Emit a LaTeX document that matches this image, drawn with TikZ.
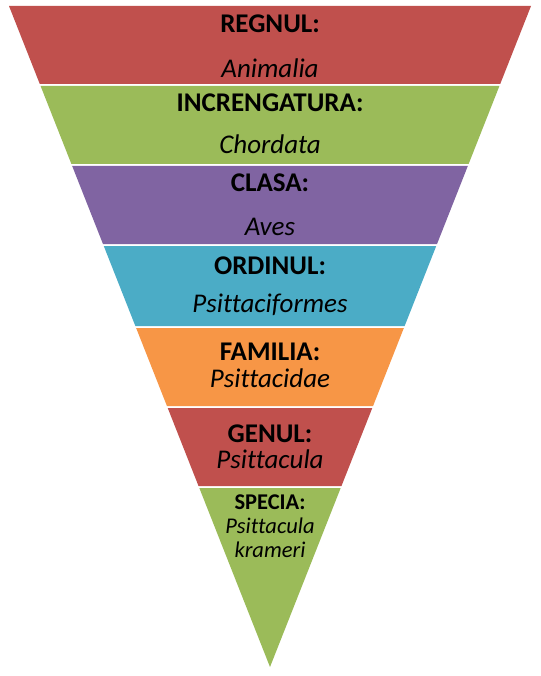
\documentclass[tikz,border=0pt]{standalone}
\usepackage{fontspec}
\setmainfont{Carlito}[Ligatures=NoCommon]
\definecolor{cred}{HTML}{C0504D}
\definecolor{cgreen}{HTML}{9BBB59}
\definecolor{cpurple}{HTML}{8064A2}
\definecolor{caqua}{HTML}{4BACC6}
\definecolor{corange}{HTML}{F79646}
\begin{document}
\begin{tikzpicture}[x=1pt,y=-1pt,
  rank/.style={anchor=base,inner sep=0pt,font=\fontsize{27}{30}\selectfont\bfseries},
  taxon/.style={anchor=base,inner sep=0pt,font=\fontsize{27}{30}\selectfont\itshape},
  srank/.style={anchor=base,inner sep=0pt,font=\fontsize{22.5}{24}\selectfont\bfseries},
  staxon/.style={anchor=base,inner sep=0pt,font=\fontsize{22.5}{24}\selectfont\itshape}]
\useasboundingbox (0,0) rectangle (540,676);
\fill[white] (0,0) rectangle (540,676);
% bands
\fill[cred]    (9,6) -- (531,6) -- (500.20,84) -- (39.80,84) -- cycle;
\fill[cgreen]  (40.59,86) -- (499.41,86) -- (468.61,164) -- (71.39,164) -- cycle;
\fill[cpurple] (72.18,166) -- (467.82,166) -- (437.02,244) -- (102.98,244) -- cycle;
\fill[caqua]   (103.77,246) -- (436.23,246) -- (404.64,326) -- (135.36,326) -- cycle;
\fill[corange] (136.14,328) -- (403.86,328) -- (373.06,406) -- (166.94,406) -- cycle;
\fill[cred]    (167.73,408) -- (372.27,408) -- (341.47,486) -- (198.53,486) -- cycle;
\fill[cgreen]  (199.32,488) -- (340.68,488) -- (270,667) -- cycle;
% labels
\node[rank]  (regnul) at (270,33)  {REGNUL:};
\node[taxon] (animalia) at (270,78) {Animalia};
\node[rank]  (incr) at (270,112) {INCRENGATURA:};
\node[taxon] (chordata) at (270,154) {Chordata};
\node[rank]  (clasa) at (270,192) {CLASA:};
\node[taxon] (aves) at (270,235) {Aves};
\node[rank]  (ordinul) at (270,274) {ORDINUL:};
\node[taxon] (psform) at (270,312) {Psittaciformes};
\node[rank]  (familia) at (270,360) {FAMILIA:};
\node[taxon] (psdae) at (270,387) {Psittacidae};
\node[rank]  (genul) at (270,442) {GENUL:};
\node[taxon] (pscula) at (270,468) {Psittacula};
\node[srank] (specia) at (270,509) {SPECIA:};
\node[staxon] (spps) at (270,533) {Psittacula};
\node[staxon] (spkr) at (270,557) {krameri};
\end{tikzpicture}
\end{document}
